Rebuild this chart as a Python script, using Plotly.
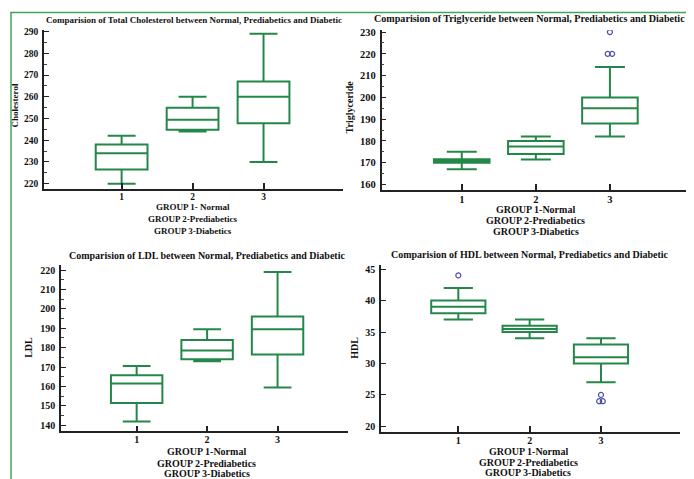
import plotly.graph_objects as go

# The page body has an 8 px margin; the figure is sized and laid out so the
# visible window matches the 694x479 reference.
OFF = 8
W, H = 694 - OFF, 479 - OFF
groups = [1, 2, 3]
tick_text = ["1", "2", "3"]
group_lines = ["GROUP 1- Normal", "GROUP 2-Prediabetics", "GROUP 3-Diabetics"]
group_lines_b = ["GROUP 1-Normal", "GROUP 2-Prediabetics", "GROUP 3-Diabetics"]

# Total cholesterol
chol_q1 = [226.5, 244.8, 247.8]
chol_med = [234, 249.4, 260]
chol_q3 = [238, 254.9, 267]
chol_lo = [220, 244, 230]
chol_hi = [242, 260, 289]

# Triglyceride
tg_q1 = [170, 174, 188]
tg_med = [170.7, 177.5, 195]
tg_q3 = [171.6, 180, 200]
tg_lo = [167, 171.5, 182]
tg_hi = [175, 182, 214]
tg_out_x = [3, 2.97, 3.03]
tg_out_y = [230, 220, 220]

# LDL
ldl_q1 = [151.5, 174, 176.5]
ldl_med = [161.5, 178.5, 189.5]
ldl_q3 = [165.8, 184, 196]
ldl_lo = [142, 173, 159.5]
ldl_hi = [170.5, 189.5, 219]

# HDL
hdl_q1 = [38, 35, 30]
hdl_med = [39, 35.5, 31]
hdl_q3 = [40, 36, 33]
hdl_lo = [37, 34, 27]
hdl_hi = [42, 37, 34]
hdl_out_x = [1, 3, 2.975, 3.025]
hdl_out_y = [44, 25, 24, 24]

GREEN = "#24874a"
BORDER = "#45a35a"
OUTC = "#4b4fa6"
SERIF = "Liberation Serif"

def px(x):
    return (x - OFF) / W

def py(y):
    return 1 - (y - OFF) / H

fig = go.Figure()

panels = [
    dict(q1=chol_q1, med=chol_med, q3=chol_q3, lo=chol_lo, hi=chol_hi,
         xd=(44, 343), yd=(27, 187), xr=(-0.094, 4.12), yr=(217.6, 290.8),
         dtick=10, minor=5, w=0.73, fs=9.5),
    dict(q1=tg_q1, med=tg_med, q3=tg_q3, lo=tg_lo, hi=tg_hi,
         xd=(381.7, 694), yd=(27, 188.3), xr=(-0.081, 4.135), yr=(157.4, 231.0),
         dtick=10, minor=5, w=0.75, fs=10.5),
    dict(q1=ldl_q1, med=ldl_med, q3=ldl_q3, lo=ldl_lo, hi=ldl_hi,
         xd=(61, 348), yd=(264, 431), xr=(-0.074, 4.0), yr=(136.9, 222.4),
         dtick=10, minor=5, w=0.73, fs=10),
    dict(q1=hdl_q1, med=hdl_med, q3=hdl_q3, lo=hdl_lo, hi=hdl_hi,
         xd=(381, 680), yd=(264, 431.7), xr=(-0.084, 4.108), yr=(19.1, 45.6),
         dtick=5, minor=None, w=0.76, fs=10),
]

layout_axes = {}
for i, p in enumerate(panels, start=1):
    xa = "x" if i == 1 else f"x{i}"
    ya = "y" if i == 1 else f"y{i}"
    fig.add_trace(go.Box(
        x=groups, q1=p["q1"], median=p["med"], q3=p["q3"],
        lowerfence=p["lo"], upperfence=p["hi"],
        width=p["w"], whiskerwidth=0.54, boxpoints=False,
        line=dict(color=GREEN, width=2), fillcolor="rgba(255,255,255,0)",
        xaxis=xa, yaxis=ya, showlegend=False, hoverinfo="skip"))
    tf = dict(family=SERIF, size=p["fs"], color="#111", weight="bold")
    layout_axes[f"xaxis{'' if i == 1 else i}"] = dict(
        domain=[px(p["xd"][0]), min(1.0, px(p["xd"][1]))], range=list(p["xr"]),
        anchor=ya, tickvals=groups, ticktext=tick_text, ticks="inside",
        ticklen=6, tickwidth=1.5, tickcolor="#222", showline=True,
        linecolor="#222", linewidth=1.5, showgrid=False, zeroline=False,
        tickfont=tf, ticklabelstandoff=-2, fixedrange=True)
    yax = dict(
        domain=[py(p["yd"][1]), py(p["yd"][0])], range=list(p["yr"]),
        anchor=xa, dtick=p["dtick"], tick0=0, ticks="inside", ticklen=5,
        tickwidth=1.2, tickcolor="#222", showline=True, linecolor="#222",
        linewidth=1.5, showgrid=False, zeroline=False, tickfont=tf,
        ticklabelstandoff=2, fixedrange=True)
    if p["minor"]:
        yax["minor"] = dict(dtick=p["minor"], ticks="inside", ticklen=3,
                            tickwidth=1, tickcolor="#444", showgrid=False)
    layout_axes[f"yaxis{'' if i == 1 else i}"] = yax

fig.add_trace(go.Scatter(x=tg_out_x, y=tg_out_y, mode="markers", xaxis="x2", yaxis="y2",
                         marker=dict(symbol="circle-open", size=5, color=OUTC, line=dict(width=1.2)),
                         showlegend=False, hoverinfo="skip"))
fig.add_trace(go.Scatter(x=hdl_out_x, y=hdl_out_y, mode="markers", xaxis="x4", yaxis="y4",
                         marker=dict(symbol="circle-open", size=5, color=OUTC, line=dict(width=1.2)),
                         showlegend=False, hoverinfo="skip"))

ann = []
def text(t, x, y, size, angle=0, xanchor="center"):
    ann.append(dict(text=t, x=px(x), y=py(y), xref="paper", yref="paper",
                    showarrow=False, xanchor=xanchor, yanchor="middle", textangle=angle,
                    font=dict(family=SERIF, size=size, color="#111", weight="bold")))

text("Comparision of Total Cholesterol between Normal, Prediabetics and Diabetic", 193.5, 17, 9)
text("Comparision of Triglyceride between Normal, Prediabetics and Diabetic", 372, 15.5, 10.1, xanchor="left")
text("Comparision of LDL between Normal, Prediabetics and Diabetic", 207, 254, 10)
text("Comparision of HDL between Normal, Prediabetics and Diabetic", 530, 253, 10)

text("Cholesterol", 15, 103, 9, angle=-90)
text("Triglyceride", 349, 105, 10, angle=-90)
text("LDL", 29, 347, 10, angle=-90)
text("HDL", 355, 347, 10, angle=-90)

for k, yy in enumerate([205.5, 217.2, 229]):
    text(group_lines[k], 193, yy, 9)
for k, yy in enumerate([208, 218.8, 229.6]):
    text(group_lines_b[k], 535.7, yy, 10)
for k, yy in enumerate([451.5, 463, 473.5]):
    text(group_lines_b[k], 206.7, yy, 10)
for k, yy in enumerate([451.5, 462, 472.5]):
    text(group_lines_b[k], 528.3, yy, 10)

shapes = [
    dict(type="line", xref="paper", yref="paper", x0=px(11), x1=px(11), y0=py(9.5), y1=0,
         line=dict(color=BORDER, width=1.5)),
    dict(type="line", xref="paper", yref="paper", x0=px(10.3), x1=1, y0=py(9.5), y1=py(9.5),
         line=dict(color=BORDER, width=1.5)),
]

fig.update_layout(width=W, height=H, margin=dict(l=0, r=0, t=0, b=0),
                  paper_bgcolor="white", plot_bgcolor="white",
                  annotations=ann, shapes=shapes, showlegend=False, **layout_axes)

fig.write_html("out.html")
